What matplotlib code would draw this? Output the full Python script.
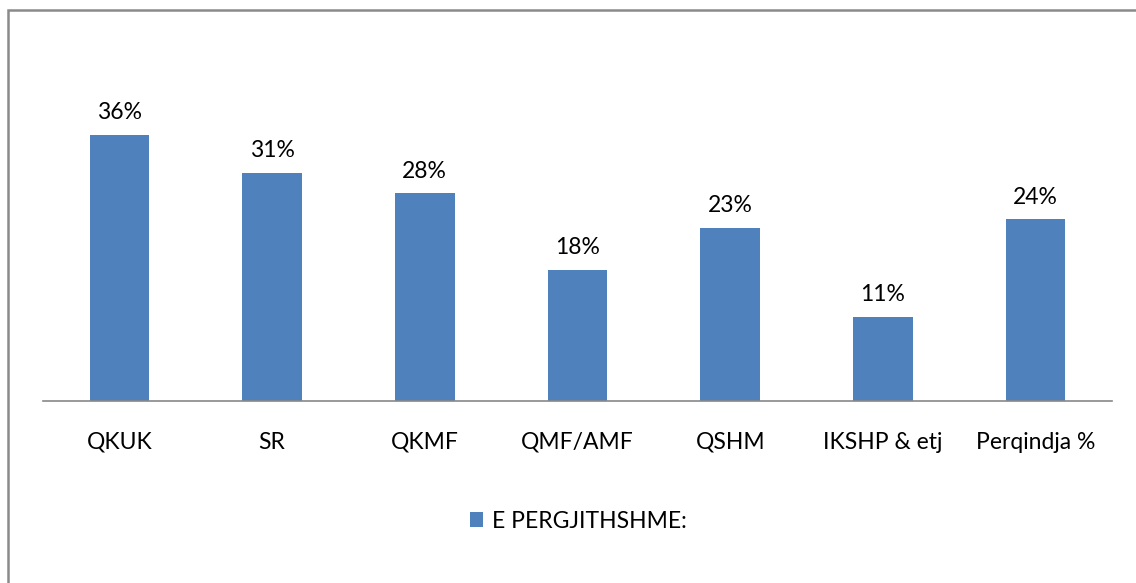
import matplotlib
matplotlib.use("Agg")
import matplotlib.pyplot as plt
from matplotlib.patches import Rectangle

categories = ["QKUK", "SR", "QKMF", "QMF/AMF", "QSHM", "IKSHP & etj", "Perqindja %"]
values = [35.8, 30.7, 27.9, 17.6, 23.2, 11.3, 24.4]
labels = ["36%", "31%", "28%", "18%", "23%", "11%", "24%"]
series_name = "E PERGJITHSHME:"

plt.rcParams['font.family'] = ['Lato', 'DejaVu Sans']
FS = 16.5

fig = plt.figure(figsize=(11.36, 5.83), dpi=100)
ax = fig.add_axes([43/1136, 182/583, (1112-43)/1136, (401-103.4)/583])

x = list(range(len(categories)))
bars = ax.bar(x, values, width=0.39, color="#4F81BD", label=series_name, zorder=2)
for xi, v, lab in zip(x, values, labels):
    ax.text(xi, v + 1.6, lab, ha="center", va="bottom", fontsize=FS, color="#000000", clip_on=False)

ax.set_xlim(-0.5, len(categories) - 0.5)
ax.set_ylim(0, 40)
ax.set_yticks([])
ax.set_xticks(x)
ax.set_xticklabels(categories, fontsize=FS)
ax.tick_params(axis="x", length=0, pad=22)
for s in ["top", "right", "left"]:
    ax.spines[s].set_visible(False)
ax.spines["bottom"].set_color("#888888")
ax.spines["bottom"].set_linewidth(1.2)

fig.legend(handles=[bars], labels=[series_name], loc="center",
           bbox_to_anchor=(578/1136, 1 - 521/583), frameon=False, fontsize=FS,
           handlelength=0.6, handleheight=0.6, handletextpad=0.35)

fig.patches.append(Rectangle((8/1136, -0.1), 1.2, 1 - 10/583 + 0.1,
                             transform=fig.transFigure, fill=False,
                             edgecolor="#8A8A8A", linewidth=1.8, clip_on=False))

fig.savefig("out.png", dpi=100)
